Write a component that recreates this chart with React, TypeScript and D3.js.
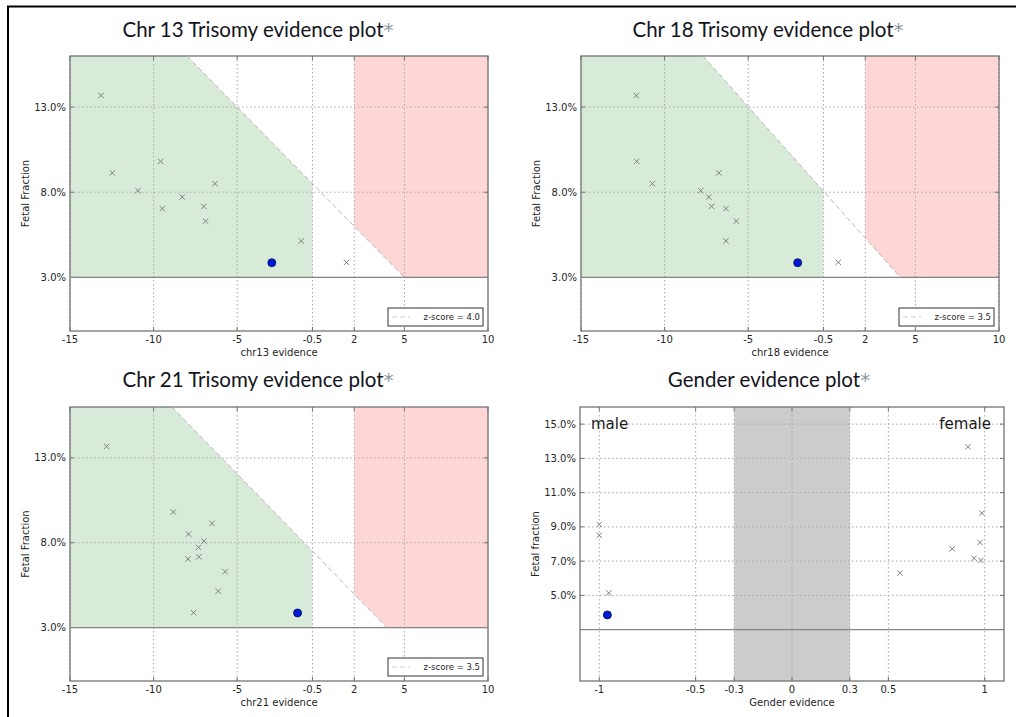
import React from "react";
import * as d3 from "d3";

// Fetal fraction (%) of the reference samples, shared by every panel
const referenceFetalFraction = [13.68, 9.81, 9.14, 8.51, 8.09, 7.72, 7.17, 7.04, 6.3, 5.14, 3.88];

// Evidence scores of the reference samples, same order as the fetal fractions
const chr13Evidence = [-13.15, -9.58, -12.47, -6.33, -10.94, -8.29, -7.0, -9.48, -6.89, -1.17, 1.54];
const chr18Evidence = [-11.69, -11.67, -6.75, -10.73, -7.84, -7.36, -7.19, -6.33, -5.71, -6.33, 0.39];
const chr21Evidence = [-12.81, -8.82, -6.51, -7.91, -6.99, -7.31, -7.29, -7.95, -5.72, -6.14, -7.61];
const genderEvidence = [0.913, 0.985, -1.0, -1.0, 0.975, 0.831, 0.944, 0.98, 0.56, -0.951, -0.958];

// The tested sample
const sampleFetalFraction = 3.86;
const sampleChr13 = -2.93;
const sampleChr18 = -2.04;
const sampleChr21 = -1.39;
const sampleGender = -0.958;

// z-score boundary: evidence value where it crosses 16% and 3% fetal fraction
const chr13Boundary = [-8.0, 5.0];
const chr18Boundary = [-7.7, 4.1];
const chr21Boundary = [-8.9, 3.95];

const trisomyXTicks = [-15, -10, -5, -0.5, 2, 5, 10];
const trisomyYTicks = [3, 8, 13];
const genderXTicks = [-1, -0.5, -0.3, 0, 0.3, 0.5, 1];
const genderYTicks = [5, 7, 9, 11, 13, 15];

const FF_MIN = 3;
const FF_TOP = 16;
const NO_CALL_LOW = -0.5;
const AFFECTED_LOW = 2;
const GENDER_GRAY = 0.3;

const TICK_FONT = "'DejaVu Sans', sans-serif";
const TITLE_FONT = "Lato, sans-serif";
const SPINE = "#747474";
const GRID = "#a8a8a8";
const MARK = "#808080";

type Box = { left: number; right: number; top: number; bottom: number };

function Cross({ cx, cy }: { cx: number; cy: number }) {
  const s = 2.7;
  return (
    <path
      d={`M${cx - s},${cy - s}L${cx + s},${cy + s}M${cx - s},${cy + s}L${cx + s},${cy - s}`}
      stroke={MARK}
      strokeWidth={1}
      fill="none"
    />
  );
}

function Title({ x, y, text }: { x: number; y: number; text: string }) {
  return (
    <text x={x} y={y} textAnchor="middle" fontFamily={TITLE_FONT} fontSize={20.5} fill="#14141c">
      {text}
      <tspan fill="#8f98a2" fontSize={20} fontFamily="'DejaVu Sans', sans-serif">
        *
      </tspan>
    </text>
  );
}

function Frame({
  box,
  xScale,
  yScale,
  xTicks,
  yTicks,
  xFormat,
  yFormat,
  xLabel,
  yLabel,
}: {
  box: Box;
  xScale: d3.ScaleLinear<number, number>;
  yScale: d3.ScaleLinear<number, number>;
  xTicks: number[];
  yTicks: number[];
  xFormat: (v: number) => string;
  yFormat: (v: number) => string;
  xLabel: string;
  yLabel: string;
}) {
  const cy = (box.top + box.bottom) / 2;
  return (
    <g>
      {/* dotted grid */}
      {xTicks.map((t) => (
        <line
          key={"gx" + t}
          x1={xScale(t)}
          x2={xScale(t)}
          y1={box.top}
          y2={box.bottom}
          stroke={GRID}
          strokeWidth={1}
          strokeDasharray="1.5,2.5"
        />
      ))}
      {yTicks.map((t) => (
        <line
          key={"gy" + t}
          x1={box.left}
          x2={box.right}
          y1={yScale(t)}
          y2={yScale(t)}
          stroke={GRID}
          strokeWidth={1}
          strokeDasharray="1.5,2.5"
        />
      ))}
      {/* inward tick marks */}
      {xTicks.map((t) => (
        <g key={"tx" + t}>
          <line x1={xScale(t)} x2={xScale(t)} y1={box.bottom} y2={box.bottom - 4} stroke={SPINE} />
          <line x1={xScale(t)} x2={xScale(t)} y1={box.top} y2={box.top + 4} stroke={SPINE} />
        </g>
      ))}
      {yTicks.map((t) => (
        <g key={"ty" + t}>
          <line x1={box.left} x2={box.left + 4} y1={yScale(t)} y2={yScale(t)} stroke={SPINE} />
          <line x1={box.right} x2={box.right - 4} y1={yScale(t)} y2={yScale(t)} stroke={SPINE} />
        </g>
      ))}
      <rect
        x={box.left}
        y={box.top}
        width={box.right - box.left}
        height={box.bottom - box.top}
        fill="none"
        stroke={SPINE}
        strokeWidth={1.3}
      />
      {xTicks.map((t) => (
        <text
          key={"lx" + t}
          x={xScale(t)}
          y={box.bottom + 12}
          textAnchor="middle"
          fontFamily={TICK_FONT}
          fontSize={10}
          fill="#262626"
        >
          {xFormat(t)}
        </text>
      ))}
      {yTicks.map((t) => (
        <text
          key={"ly" + t}
          x={box.left - 4}
          y={yScale(t) + 3.5}
          textAnchor="end"
          fontFamily={TICK_FONT}
          fontSize={10}
          fill="#262626"
        >
          {yFormat(t)}
        </text>
      ))}
      <text
        x={(box.left + box.right) / 2}
        y={box.bottom + 25}
        textAnchor="middle"
        fontFamily={TICK_FONT}
        fontSize={10}
        fill="#262626"
      >
        {xLabel}
      </text>
      <text
        transform={`translate(${box.left - 41},${cy}) rotate(-90)`}
        textAnchor="middle"
        fontFamily={TICK_FONT}
        fontSize={10}
        fill="#262626"
      >
        {yLabel}
      </text>
    </g>
  );
}

const fmtEvidence = (v: number) => String(v);
const fmtPercent = (v: number) => v.toFixed(1) + "%";

function TrisomyPanel({
  box,
  title,
  titleX,
  titleY,
  xLabel,
  evidence,
  sample,
  boundary,
  zLabel,
}: {
  box: Box;
  title: string;
  titleX: number;
  titleY: number;
  xLabel: string;
  evidence: number[];
  sample: number;
  boundary: number[];
  zLabel: string;
}) {
  const x = d3.scaleLinear().domain([-15, 10]).range([box.left, box.right]);
  const y = d3.scaleLinear().domain([-0.15, FF_TOP]).range([box.bottom, box.top]);
  const [xTop, xBottom] = boundary;
  const ffAt = (e: number) => FF_TOP + ((e - xTop) * (FF_MIN - FF_TOP)) / (xBottom - xTop);

  const poly = d3
    .line<[number, number]>()
    .x((d) => x(d[0]))
    .y((d) => y(d[1]));

  const normal: [number, number][] = [
    [-15, FF_MIN],
    [-15, FF_TOP],
    [xTop, FF_TOP],
    [NO_CALL_LOW, ffAt(NO_CALL_LOW)],
    [NO_CALL_LOW, FF_MIN],
  ];
  const affected: [number, number][] = [
    [AFFECTED_LOW, ffAt(AFFECTED_LOW)],
    [AFFECTED_LOW, FF_TOP],
    [10, FF_TOP],
    [10, FF_MIN],
    [xBottom, FF_MIN],
  ];

  const lgX1 = box.right - 100;
  const lgX2 = box.right - 5;
  const lgY1 = box.bottom - 23;
  const lgY2 = box.bottom - 5;

  return (
    <g>
      <Title x={titleX} y={titleY} text={title} />
      <path d={poly(normal) + "Z"} fill="#d8ebd8" />
      <path d={poly(affected) + "Z"} fill="#ffd6d6" />
      <Frame
        box={box}
        xScale={x}
        yScale={y}
        xTicks={trisomyXTicks}
        yTicks={trisomyYTicks}
        xFormat={fmtEvidence}
        yFormat={fmtPercent}
        xLabel={xLabel}
        yLabel="Fetal Fraction"
      />
      <line
        x1={x(xTop)}
        y1={y(FF_TOP)}
        x2={x(xBottom)}
        y2={y(FF_MIN)}
        stroke="#b8b8b8"
        strokeWidth={1}
        strokeDasharray="5,3"
      />
      <line x1={box.left} x2={box.right} y1={y(FF_MIN)} y2={y(FF_MIN)} stroke="#858585" strokeWidth={1.2} />
      {evidence.map((e, i) => (
        <Cross key={i} cx={x(e)} cy={y(referenceFetalFraction[i])} />
      ))}
      <circle cx={x(sample)} cy={y(sampleFetalFraction)} r={4} fill="#0018d8" stroke="#000a50" strokeWidth={0.8} />
      <rect x={lgX1} y={lgY1} width={lgX2 - lgX1} height={lgY2 - lgY1} fill="#fff" stroke="#333" strokeWidth={1} />
      <line
        x1={lgX1 + 4}
        x2={lgX1 + 22}
        y1={(lgY1 + lgY2) / 2}
        y2={(lgY1 + lgY2) / 2}
        stroke="#cccccc"
        strokeWidth={1}
        strokeDasharray="5,3"
      />
      <text
        x={lgX2 - 3}
        y={(lgY1 + lgY2) / 2 + 3}
        textAnchor="end"
        fontFamily={TICK_FONT}
        fontSize={8.5}
        fill="#262626"
      >
        {zLabel}
      </text>
    </g>
  );
}

function GenderPanel({ box, titleX, titleY }: { box: Box; titleX: number; titleY: number }) {
  const x = d3.scaleLinear().domain([-1.1, 1.1]).range([box.left, box.right]);
  const y = d3.scaleLinear().domain([0, FF_TOP]).range([box.bottom, box.top]);
  return (
    <g>
      <Title x={titleX} y={titleY} text="Gender evidence plot" />
      <rect
        x={x(-GENDER_GRAY)}
        y={box.top}
        width={x(GENDER_GRAY) - x(-GENDER_GRAY)}
        height={box.bottom - box.top}
        fill="#cccccc"
      />
      <Frame
        box={box}
        xScale={x}
        yScale={y}
        xTicks={genderXTicks}
        yTicks={genderYTicks}
        xFormat={(v) => String(v)}
        yFormat={fmtPercent}
        xLabel="Gender evidence"
        yLabel="Fetal fraction"
      />
      <line x1={box.left} x2={box.right} y1={y(FF_MIN)} y2={y(FF_MIN)} stroke="#858585" strokeWidth={1.2} />
      <text x={box.left + 11} y={y(15) + 5} fontFamily={TICK_FONT} fontSize={15} fill="#1a1a1a">
        male
      </text>
      <text x={box.right - 13} y={y(15) + 5} textAnchor="end" fontFamily={TICK_FONT} fontSize={15} fill="#1a1a1a">
        female
      </text>
      {genderEvidence.map((e, i) => (
        <Cross key={i} cx={x(e)} cy={y(referenceFetalFraction[i])} />
      ))}
      <circle cx={x(sampleGender)} cy={y(sampleFetalFraction)} r={4} fill="#0018d8" stroke="#000a50" strokeWidth={0.8} />
    </g>
  );
}

export default function App() {
  return (
    <svg
      width={1016}
      height={717}
      viewBox="0 0 1016 717"
      style={{ position: "absolute", left: 0, top: 0, display: "block" }}
    >
      <rect x={0} y={0} width={1016} height={717} fill="#fff" />
      {/* figure frame */}
      <rect x={8} y={6.5} width={1040} height={740} fill="none" stroke="#000" strokeWidth={2} />
      <TrisomyPanel
        box={{ left: 70, right: 488, top: 56, bottom: 331 }}
        title="Chr 13 Trisomy evidence plot"
        titleX={258}
        titleY={37}
        xLabel="chr13 evidence"
        evidence={chr13Evidence}
        sample={sampleChr13}
        boundary={chr13Boundary}
        zLabel="z-score = 4.0"
      />
      <TrisomyPanel
        box={{ left: 581, right: 999, top: 56, bottom: 331 }}
        title="Chr 18 Trisomy evidence plot"
        titleX={768}
        titleY={37}
        xLabel="chr18 evidence"
        evidence={chr18Evidence}
        sample={sampleChr18}
        boundary={chr18Boundary}
        zLabel="z-score = 3.5"
      />
      <TrisomyPanel
        box={{ left: 70, right: 488, top: 407, bottom: 681 }}
        title="Chr 21 Trisomy evidence plot"
        titleX={258}
        titleY={387}
        xLabel="chr21 evidence"
        evidence={chr21Evidence}
        sample={sampleChr21}
        boundary={chr21Boundary}
        zLabel="z-score = 3.5"
      />
      <GenderPanel box={{ left: 580, right: 1004, top: 407, bottom: 681 }} titleX={769} titleY={387} />
    </svg>
  );
}
